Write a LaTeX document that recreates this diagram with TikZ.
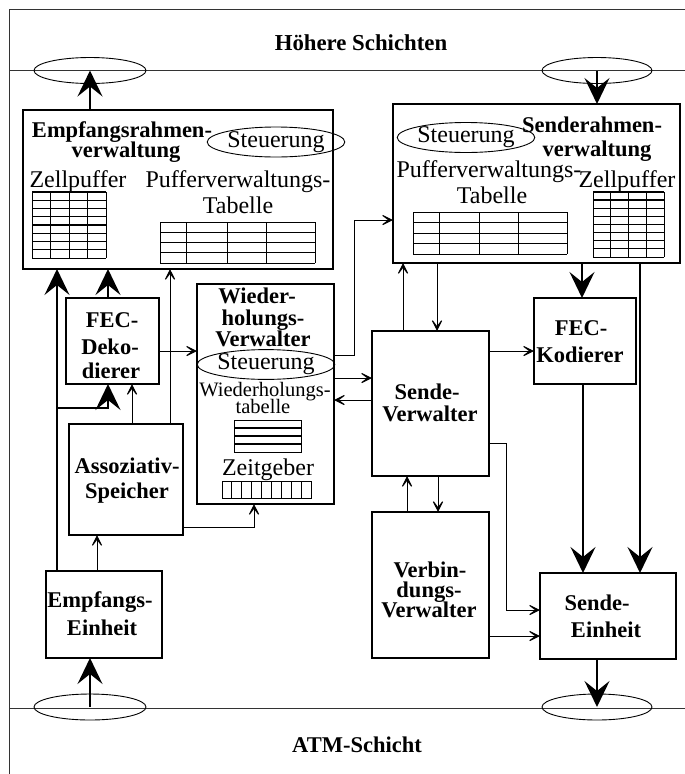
\documentclass[tikz,border=0pt]{standalone}
\usepackage{fontspec}
\setmainfont{Liberation Serif}
\usetikzlibrary{arrows.meta,shapes.geometric}
\begin{document}
\begin{tikzpicture}[x=1pt,y=-1pt,
  box/.style={draw, line width=2.6pt, inner sep=0pt, outer sep=0pt, rectangle},
  lbl/.style={font=\fontsize{22.5}{22.5}\selectfont\bfseries, inner sep=0pt, anchor=base},
  txt/.style={font=\fontsize{24}{24}\selectfont, inner sep=0pt, anchor=base},
  smalltxt/.style={font=\fontsize{20.5}{20.5}\selectfont, inner sep=0pt, anchor=base},
  steu/.style={draw, ellipse, line width=0.9pt, inner sep=0pt, font=\fontsize{24}{24}\selectfont},
  port/.style={draw, ellipse, line width=0.9pt, inner sep=0pt, minimum width=112pt, minimum height=26pt},
  bigarrow/.style={line width=2pt, -{Stealth[length=26pt,width=25pt,inset=10pt]}},
  smarrow/.style={line width=1pt, -{Stealth[length=15pt,width=15pt,inset=10pt]}},
  framestyle/.style={line width=0.9pt, draw=black!80},
  gridthin/.style={line width=0.8pt},
  gridthick/.style={line width=1.3pt},
]
\useasboundingbox (0,0) rectangle (685,774);

% frame and layer lines
\draw[framestyle] (9.5,774) -- (9.5,9) -- (685,9);
\draw[framestyle] (9.5,70.5) -- (685,70.5);
\draw[framestyle] (9.5,708) -- (685,708);

\node[lbl, font=\fontsize{22.8}{22.8}\selectfont\bfseries] (hs) at (361,50) {Höhere Schichten};
\node[lbl] (atm) at (357,752) {ATM-Schicht};

% ports
\node[port] (p1) at (90,70.5) {};
\node[port, minimum width=110pt] (p2) at (597,70.5) {};
\node[port] (p3) at (90,707) {};
\node[port, minimum width=110pt] (p4) at (597,707) {};

% boxes
\node[box, minimum width=310pt, minimum height=159pt] (erv) at (178,189.5) {};
\node[box, minimum width=287pt, minimum height=159pt] (srv) at (536.5,183.5) {};
\node[box, minimum width=93pt, minimum height=86pt] (fecd) at (112.5,341) {};
\node[box, minimum width=137pt, minimum height=220pt] (wv) at (265.5,394) {};
\node[box, minimum width=114pt, minimum height=111pt] (as) at (126,479.5) {};
\node[box, minimum width=116pt, minimum height=87pt] (ee) at (104,614.5) {};
\node[box, minimum width=117pt, minimum height=145pt] (sv) at (430.5,403.5) {};
\node[box, minimum width=102pt, minimum height=86pt] (feck) at (585,341) {};
\node[box, minimum width=117pt, minimum height=146pt] (vv) at (430.5,585) {};
\node[box, minimum width=136pt, minimum height=86pt] (se) at (608,616) {};

% Empfangsrahmenverwaltung contents
\node[lbl] (erv-t1) at (122,137) {Empfangsrahmen-};
\node[lbl] (erv-t2) at (126,157) {verwaltung};
\node[steu, minimum width=102pt, minimum height=30pt] (erv-st) at (276,142) {Steuerung};
\node[txt] (erv-zp) at (78,187) {Zellpuffer};
\node[txt] (erv-pv1) at (238,187) {Pufferverwaltungs-};
\node[txt] (erv-pv2) at (238,213) {Tabelle};
\foreach \i in {0,...,4} \draw[gridthick] (32,{192+8.25*\i}) -- (106,{192+8.25*\i});
\foreach \i in {5,...,8} \draw[gridthin] (32,{192+8.25*\i}) -- (106,{192+8.25*\i});
\foreach \x in {32,50.5,69,87.5,106} \draw[gridthin] (\x,192) -- (\x,258);
\foreach \i in {0,...,4} \draw[gridthin] (160,{222+10.25*\i}) -- (315,{222+10.25*\i});
\foreach \x in {160,186,227,266,315} \draw[gridthin] (\x,222) -- (\x,263);

% Senderahmenverwaltung contents
\node[lbl] (srv-t1) at (592,132) {Senderahmen-};
\node[lbl] (srv-t2) at (597,156) {verwaltung};
\node[steu, minimum width=100pt, minimum height=30pt] (srv-st) at (466,137.5) {Steuerung};
\node[txt] (srv-pv1) at (489,177) {Pufferverwaltungs-};
\node[txt] (srv-pv2) at (492,203) {Tabelle};
\node[txt] (srv-zp) at (627,187) {Zellpuffer};
\foreach \i in {0,...,4} \draw[gridthin] (413,{212+10.5*\i}) -- (567,{212+10.5*\i});
\foreach \x in {413,439,479,518,567} \draw[gridthin] (\x,212) -- (\x,254);
\foreach \i in {0,...,4} \draw[gridthick] (593,{192+8.125*\i}) -- (664,{192+8.125*\i});
\foreach \i in {5,...,8} \draw[gridthin] (593,{192+8.125*\i}) -- (664,{192+8.125*\i});
\foreach \x in {593,610.75,628.5,646.25,664} \draw[gridthin] (\x,192) -- (\x,257);

% FEC-Dekodierer
\node[lbl] (fecd-t1) at (112,327) {FEC-};
\node[lbl] (fecd-t2) at (110,354) {Deko-};
\node[lbl] (fecd-t3) at (111,378) {dierer};

% Wiederholungs-Verwalter
\node[lbl] (wv-t1) at (257,303) {Wieder-};
\node[lbl] (wv-t2) at (263,325) {holungs-};
\node[lbl] (wv-t3) at (263,346) {Verwalter};
\node[steu, minimum width=102pt, minimum height=29pt] (wv-st) at (266,364.5) {Steuerung};
\node[smalltxt] (wv-wt1) at (265,396) {Wiederholungs-};
\node[smalltxt] (wv-wt2) at (263,413) {tabelle};
\draw[gridthin] (234,420) rectangle (301,452);
\foreach \y in {428,436,444} \draw[gridthick] (234,\y) -- (301,\y);
\node[txt] (wv-zg) at (268,475) {Zeitgeber};
\draw[gridthin] (222,481) rectangle (311,498);
\foreach \i in {1,...,8} \draw[gridthin] ({222+9.889*\i},481) -- ({222+9.889*\i},498);

% other labels
\node[lbl] (as-t1) at (127,473) {Assoziativ-};
\node[lbl] (as-t2) at (127,498) {Speicher};
\node[lbl] (ee-t1) at (100,607) {Empfangs-};
\node[lbl] (ee-t2) at (102,635) {Einheit};
\node[lbl] (sv-t1) at (427,399) {Sende-};
\node[lbl] (sv-t2) at (430,421) {Verwalter};
\node[lbl] (feck-t1) at (581,335) {FEC-};
\node[lbl] (feck-t2) at (580,362) {Kodierer};
\node[lbl] (vv-t1) at (430,577) {Verbin-};
\node[lbl] (vv-t2) at (429,597) {dungs-};
\node[lbl] (vv-t3) at (429,617) {Verwalter};
\node[lbl] (se-t1) at (597,610) {Sende-};
\node[lbl] (se-t2) at (606,637) {Einheit};

% connectors: layer ports
\draw[bigarrow] (erv.north -| p1.center) -- (p1.center);
\draw[bigarrow] (p2.center) -- (srv.north -| p2.center);
\draw[bigarrow] (p3.center) -- (ee.south -| p3.center);
\draw[bigarrow] (se.south -| p4.center) -- (p4.center);

% receive side
\coordinate (br) at (57,408);
\draw[bigarrow] (ee.north -| br) -- (erv.south -| br);
\draw[bigarrow] (br) -| (fecd.south -| 108,0);
\draw[bigarrow] (fecd.north -| 108,0) -- (erv.south -| 108,0);
\draw[smarrow] (as.north -| 170,0) -- (erv.south -| 170,0);
\draw[smarrow] (as.north -| 132,0) -- (fecd.south -| 132,0);
\draw[smarrow] (ee.north -| 97,0) -- (as.south -| 97,0);
\draw[smarrow] (as.east |- 0,527) -- (254,527) -- (wv.south -| 254,0);
\draw[smarrow] (fecd.east |- 0,351) -- (wv.west |- 0,351);

% retransmission / send side
\draw[smarrow] (wv.east |- 0,355) -- (354,355) -- (354,220) -- (srv.west |- 0,220);
\draw[smarrow] (wv.east |- 0,378) -- (sv.west |- 0,378);
\draw[smarrow] (sv.west |- 0,400) -- (wv.east |- 0,400);
\draw[smarrow] (sv.north -| 403,0) -- (srv.south -| 403,0);
\draw[smarrow] (srv.south -| 437,0) -- (sv.north -| 437,0);
\draw[smarrow] (sv.east |- 0,351) -- (feck.west |- 0,351);
\draw[bigarrow] (srv.south -| 582,0) -- (feck.north -| 582,0);
\draw[bigarrow] (srv.south -| 640,0) -- (se.north -| 640,0);
\draw[bigarrow] (feck.south -| 583,0) -- (se.north -| 583,0);
\draw[smarrow] (sv.east |- 0,443) -- (506,443) -- (506,610) -- (se.west |- 0,610);
\draw[smarrow] (vv.east |- 0,636) -- (se.west |- 0,636);
\draw[smarrow] (vv.north -| 407,0) -- (sv.south -| 407,0);
\draw[smarrow] (sv.south -| 438,0) -- (vv.north -| 438,0);
\end{tikzpicture}
\end{document}
